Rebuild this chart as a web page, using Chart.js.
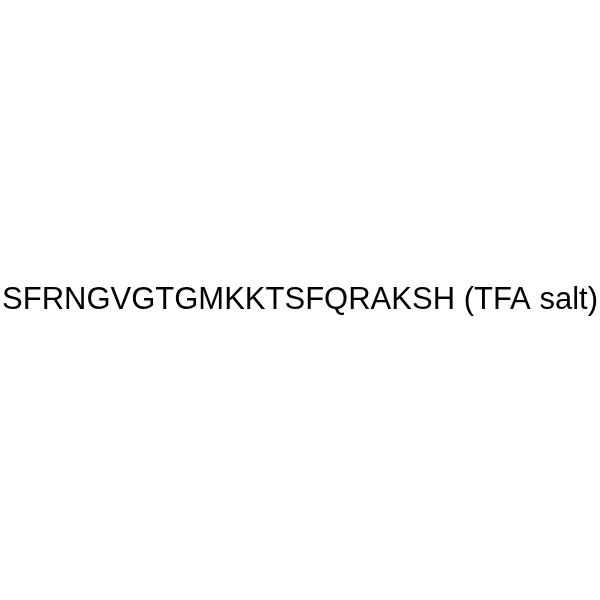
<!DOCTYPE html>
<html>
<head>
<meta charset="utf-8">
<script src="https://cdn.jsdelivr.net/npm/chart.js@4"></script>
<style>
  html, body { margin: 0; padding: 0; background: #fff; }
  #wrap { width: 600px; height: 600px; }
</style>
</head>
<body>
<div id="wrap"><canvas id="myChart" width="600" height="600"></canvas></div>
<script>
// the picture holds only a label, no data series
const labels = ["SFRNGVGTGMKKTSFQRAKSH (TFA salt)"];
const values = [];

// draws the label centred across the canvas
const centreLabel = {
  id: "centreLabel",
  afterDraw(chart) {
    const ctx = chart.ctx;
    ctx.save();
    ctx.fillStyle = "#000";
    ctx.font = "31px 'Liberation Sans', Arial, sans-serif";
    ctx.textAlign = "center";
    ctx.textBaseline = "alphabetic";
    ctx.fillText(labels[0], chart.width / 2, 309);
    ctx.restore();
  }
};

new Chart(document.getElementById("myChart").getContext("2d"), {
  type: "bar",
  data: {
    labels: labels,
    datasets: [{ data: values }]
  },
  options: {
    responsive: false,
    animation: false,
    plugins: { legend: { display: false }, tooltip: { enabled: false } },
    scales: { x: { display: false }, y: { display: false } }
  },
  plugins: [centreLabel]
});
</script>
</body>
</html>
